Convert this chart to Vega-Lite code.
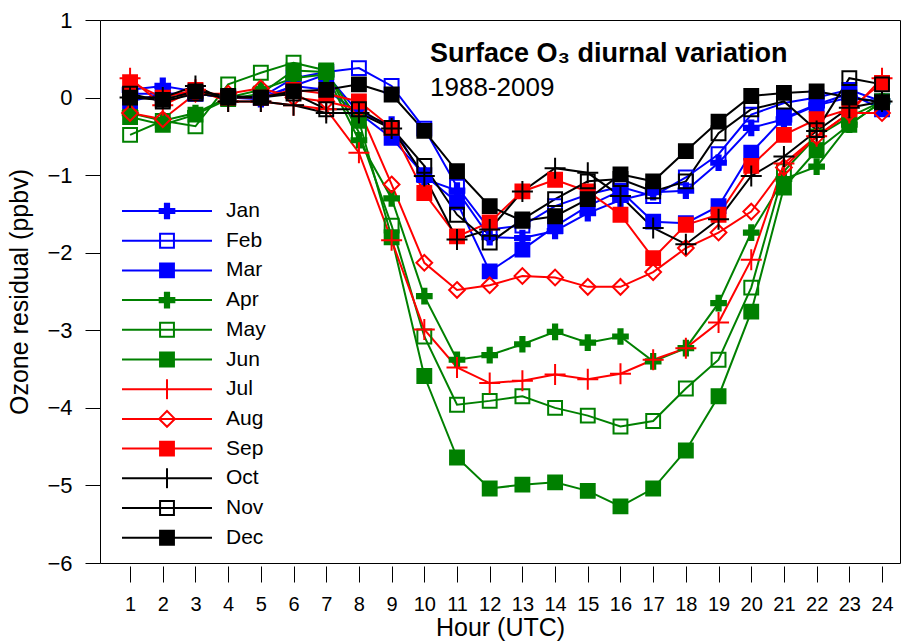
{
  "$schema": "https://vega.github.io/schema/vega-lite/v6.json",
  "width": 800,
  "height": 543,
  "autosize": "none",
  "padding": {"left": 100, "top": 20, "right": 2, "bottom": 78},
  "background": "white",
  "config": {
    "font": "Liberation Sans",
    "view": {"stroke": "#000", "strokeWidth": 1},
    "axis": {"labelColor": "#000", "titleColor": "#000", "tickColor": "#000", "domainColor": "#000", "grid": false, "labelFont": "Liberation Sans", "titleFont": "Liberation Sans", "titleFontWeight": "normal", "labelOverlap": false}
  },
  "title": {
    "text": "Surface O₃ diurnal variation",
    "subtitle": "1988-2009",
    "anchor": "start",
    "frame": "group",
    "dx": 330,
    "offset": -93,
    "font": "Liberation Sans",
    "fontSize": 27,
    "fontWeight": "bold",
    "color": "#000",
    "subtitleFont": "Liberation Sans",
    "subtitleFontSize": 26,
    "subtitleColor": "#000",
    "subtitlePadding": 7
  },
  "data": {
    "values": [
      {"hour": 1, "Jan": 0.10, "Feb": 0.05, "Mar": -0.05, "Apr": -0.20, "May": -0.48, "Jun": -0.25, "Jul": 0.25, "Aug": -0.20, "Sep": 0.20, "Oct": 0.00, "Nov": 0.05, "Dec": 0.00},
      {"hour": 2, "Jan": 0.15, "Feb": 0.05, "Mar": 0.05, "Apr": -0.30, "May": -0.30, "Jun": -0.35, "Jul": -0.10, "Aug": -0.28, "Sep": 0.00, "Oct": 0.00, "Nov": -0.05, "Dec": -0.03},
      {"hour": 3, "Jan": 0.08, "Feb": 0.05, "Mar": 0.05, "Apr": -0.20, "May": -0.37, "Jun": -0.22, "Jul": 0.10, "Aug": 0.05, "Sep": 0.10, "Oct": 0.15, "Nov": 0.05, "Dec": 0.08},
      {"hour": 4, "Jan": 0.00, "Feb": 0.00, "Mar": 0.00, "Apr": 0.00, "May": 0.17, "Jun": -0.02, "Jul": -0.05, "Aug": 0.05, "Sep": 0.00, "Oct": -0.05, "Nov": 0.00, "Dec": 0.02},
      {"hour": 5, "Jan": -0.02, "Feb": 0.00, "Mar": 0.00, "Apr": 0.10, "May": 0.32, "Jun": 0.05, "Jul": -0.05, "Aug": 0.12, "Sep": 0.00, "Oct": -0.05, "Nov": 0.00, "Dec": 0.00},
      {"hour": 6, "Jan": 0.15, "Feb": 0.25, "Mar": 0.15, "Apr": 0.25, "May": 0.45, "Jun": 0.35, "Jul": -0.10, "Aug": 0.00, "Sep": 0.10, "Oct": -0.10, "Nov": 0.05, "Dec": 0.08},
      {"hour": 7, "Jan": 0.10, "Feb": 0.33, "Mar": 0.30, "Apr": 0.30, "May": 0.35, "Jun": 0.33, "Jul": -0.15, "Aug": -0.05, "Sep": 0.05, "Oct": -0.20, "Nov": -0.15, "Dec": 0.10},
      {"hour": 8, "Jan": -0.20, "Feb": 0.38, "Mar": -0.20, "Apr": -0.55, "May": -0.45, "Jun": -0.30, "Jul": -0.71, "Aug": -0.15, "Sep": -0.05, "Oct": -0.20, "Nov": -0.15, "Dec": 0.17},
      {"hour": 9, "Jan": -0.35, "Feb": 0.15, "Mar": -0.52, "Apr": -1.30, "May": -1.65, "Jun": -1.80, "Jul": -1.84, "Aug": -1.12, "Sep": -0.39, "Oct": -0.40, "Nov": -0.39, "Dec": 0.04},
      {"hour": 10, "Jan": -1.05, "Feb": -0.40, "Mar": -1.00, "Apr": -2.56, "May": -3.08, "Jun": -3.59, "Jul": -2.99, "Aug": -2.13, "Sep": -1.23, "Oct": -1.01, "Nov": -0.88, "Dec": -0.43},
      {"hour": 11, "Jan": -1.20, "Feb": -1.15, "Mar": -1.35, "Apr": -3.38, "May": -3.96, "Jun": -4.64, "Jul": -3.48, "Aug": -2.48, "Sep": -1.79, "Oct": -1.83, "Nov": -1.51, "Dec": -0.95},
      {"hour": 12, "Jan": -1.80, "Feb": -1.70, "Mar": -2.24, "Apr": -3.32, "May": -3.91, "Jun": -5.04, "Jul": -3.68, "Aug": -2.42, "Sep": -1.61, "Oct": -1.70, "Nov": -1.87, "Dec": -1.40},
      {"hour": 13, "Jan": -1.81, "Feb": -1.65, "Mar": -1.96, "Apr": -3.18, "May": -3.85, "Jun": -4.99, "Jul": -3.65, "Aug": -2.30, "Sep": -1.21, "Oct": -1.21, "Nov": -1.57, "Dec": -1.59},
      {"hour": 14, "Jan": -1.72, "Feb": -1.40, "Mar": -1.66, "Apr": -3.02, "May": -4.00, "Jun": -4.96, "Jul": -3.57, "Aug": -2.32, "Sep": -1.06, "Oct": -0.91, "Nov": -1.31, "Dec": -1.53},
      {"hour": 15, "Jan": -1.49, "Feb": -1.25, "Mar": -1.40, "Apr": -3.16, "May": -4.10, "Jun": -5.07, "Jul": -3.63, "Aug": -2.44, "Sep": -1.21, "Oct": -0.97, "Nov": -1.08, "Dec": -1.31},
      {"hour": 16, "Jan": -1.32, "Feb": -1.15, "Mar": -1.20, "Apr": -3.08, "May": -4.24, "Jun": -5.27, "Jul": -3.56, "Aug": -2.44, "Sep": -1.51, "Oct": -1.27, "Nov": -1.05, "Dec": -0.99},
      {"hour": 17, "Jan": -1.22, "Feb": -1.27, "Mar": -1.60, "Apr": -3.40, "May": -4.17, "Jun": -5.04, "Jul": -3.38, "Aug": -2.25, "Sep": -2.07, "Oct": -1.68, "Nov": -1.21, "Dec": -1.08},
      {"hour": 18, "Jan": -1.20, "Feb": -1.03, "Mar": -1.62, "Apr": -3.23, "May": -3.75, "Jun": -4.55, "Jul": -3.23, "Aug": -1.94, "Sep": -1.64, "Oct": -1.89, "Nov": -1.08, "Dec": -0.69},
      {"hour": 19, "Jan": -0.84, "Feb": -0.73, "Mar": -1.40, "Apr": -2.65, "May": -3.38, "Jun": -3.85, "Jul": -2.90, "Aug": -1.74, "Sep": -1.51, "Oct": -1.57, "Nov": -0.46, "Dec": -0.31},
      {"hour": 20, "Jan": -0.39, "Feb": -0.22, "Mar": -0.71, "Apr": -1.74, "May": -2.45, "Jun": -2.76, "Jul": -2.09, "Aug": -1.47, "Sep": -0.88, "Oct": -1.01, "Nov": -0.15, "Dec": 0.02},
      {"hour": 21, "Jan": -0.28, "Feb": -0.07, "Mar": -0.26, "Apr": -1.05, "May": -0.95, "Jun": -1.16, "Jul": -0.85, "Aug": -0.90, "Sep": -0.48, "Oct": -0.76, "Nov": -0.05, "Dec": 0.06},
      {"hour": 22, "Jan": -0.10, "Feb": 0.00, "Mar": -0.09, "Apr": -0.89, "May": -0.50, "Jun": -0.68, "Jul": -0.50, "Aug": -0.50, "Sep": -0.28, "Oct": -0.43, "Nov": -0.42, "Dec": 0.08},
      {"hour": 23, "Jan": 0.00, "Feb": 0.10, "Mar": 0.05, "Apr": -0.35, "May": -0.25, "Jun": -0.35, "Jul": -0.20, "Aug": -0.20, "Sep": -0.15, "Oct": -0.13, "Nov": 0.25, "Dec": 0.00},
      {"hour": 24, "Jan": -0.05, "Feb": -0.05, "Mar": -0.15, "Apr": -0.05, "May": -0.05, "Jun": -0.05, "Jul": 0.25, "Aug": -0.20, "Sep": 0.19, "Oct": -0.05, "Nov": 0.17, "Dec": -0.06}
    ]
  },
  "transform": [
    {"fold": ["Jan", "Feb", "Mar", "Apr", "May", "Jun", "Jul", "Aug", "Sep", "Oct", "Nov", "Dec"], "as": ["month", "ozone"]}
  ],
  "encoding": {
    "x": {
      "field": "hour", "type": "quantitative",
      "scale": {"domain": [0.08, 24.55], "nice": false, "zero": false},
      "axis": {"values": [1,2,3,4,5,6,7,8,9,10,11,12,13,14,15,16,17,18,19,20,21,22,23,24], "title": "Hour (UTC)", "offset": 3, "domain": false, "tickSize": 16, "labelFontSize": 20, "labelPadding": 12, "titleFontSize": 25, "titlePadding": 1, "labelFlush": false}
    },
    "y": {
      "field": "ozone", "type": "quantitative",
      "scale": {"domain": [-6, 1], "nice": false, "zero": false},
      "axis": {"values": [-6,-5,-4,-3,-2,-1,0,1], "title": "Ozone residual (ppbv)", "domain": false, "tickSize": 15, "labelFontSize": 22, "labelPadding": 13, "titleFontSize": 25, "titlePadding": 14}
    }
  },
  "layer": [
    {
      "mark": {"type": "line", "strokeWidth": 2},
      "encoding": {
        "color": {
          "field": "month", "type": "nominal", "legend": null,
          "scale": {"domain": ["Jan","Feb","Mar","Apr","May","Jun","Jul","Aug","Sep","Oct","Nov","Dec"], "range": ["#0000ff","#0000ff","#0000ff","#008000","#008000","#008000","#ff0000","#ff0000","#ff0000","#000000","#000000","#000000"]}
        }
      }
    },
    {
      "mark": {"type": "point", "size": 441, "strokeWidth": 2, "opacity": 1},
      "encoding": {
        "shape": {
          "field": "month", "type": "nominal", "legend": null,
          "scale": {"domain": ["Jan","Feb","Mar","Apr","May","Jun","Jul","Aug","Sep","Oct","Nov","Dec"], "range": [
            "M-0.7,-0.2H-0.2V-0.7H0.2V-0.2H0.7V0.2H0.2V0.7H-0.2V0.2H-0.7Z",
            "M-0.66,-0.66H0.66V0.66H-0.66Z",
            "M-0.66,-0.66H0.66V0.66H-0.66Z",
            "M-0.7,-0.2H-0.2V-0.7H0.2V-0.2H0.7V0.2H0.2V0.7H-0.2V0.2H-0.7Z",
            "M-0.66,-0.66H0.66V0.66H-0.66Z",
            "M-0.66,-0.66H0.66V0.66H-0.66Z",
            "M-1,0H1M0,-1V1",
            "M0,-0.75L0.75,0L0,0.75L-0.75,0Z",
            "M-0.66,-0.66H0.66V0.66H-0.66Z",
            "M-1,0H1M0,-1V1",
            "M-0.66,-0.66H0.66V0.66H-0.66Z",
            "M-0.66,-0.66H0.66V0.66H-0.66Z"
          ]}
        },
        "stroke": {
          "field": "month", "type": "nominal", "legend": null,
          "scale": {"domain": ["Jan","Feb","Mar","Apr","May","Jun","Jul","Aug","Sep","Oct","Nov","Dec"], "range": ["#0000ff","#0000ff","#0000ff","#008000","#008000","#008000","#ff0000","#ff0000","#ff0000","#000000","#000000","#000000"]}
        },
        "fill": {
          "field": "month", "type": "nominal", "legend": null,
          "scale": {"domain": ["Jan","Feb","Mar","Apr","May","Jun","Jul","Aug","Sep","Oct","Nov","Dec"], "range": ["#0000ff","transparent","#0000ff","#008000","transparent","#008000","transparent","transparent","#ff0000","transparent","transparent","#000000"]}
        }
      }
    },
    {
      "transform": [{"filter": "false"}],
      "mark": {"type": "point", "size": 441, "strokeWidth": 2, "opacity": 1},
      "encoding": {
        "shape": {
          "field": "month", "type": "nominal",
          "scale": {"domain": ["Jan","Feb","Mar","Apr","May","Jun","Jul","Aug","Sep","Oct","Nov","Dec"], "range": [
            "M-1,0H1M-0.163,-0.047H-0.047V-0.163H0.047V-0.047H0.163V0.047H0.047V0.163H-0.047V0.047H-0.163Z",
            "M-1,0H1M-0.154,-0.154H0.154V0.154H-0.154Z",
            "M-1,0H1M-0.154,-0.154H0.154V0.154H-0.154Z",
            "M-1,0H1M-0.163,-0.047H-0.047V-0.163H0.047V-0.047H0.163V0.047H0.047V0.163H-0.047V0.047H-0.163Z",
            "M-1,0H1M-0.154,-0.154H0.154V0.154H-0.154Z",
            "M-1,0H1M-0.154,-0.154H0.154V0.154H-0.154Z",
            "M-1,0H1M0,-0.233V0.233",
            "M-1,0H1M0,-0.175L0.175,0L0,0.175L-0.175,0Z",
            "M-1,0H1M-0.154,-0.154H0.154V0.154H-0.154Z",
            "M-1,0H1M0,-0.233V0.233",
            "M-1,0H1M-0.154,-0.154H0.154V0.154H-0.154Z",
            "M-1,0H1M-0.154,-0.154H0.154V0.154H-0.154Z"
          ]},
          "legend": {"orient": "none", "legendX": 21, "legendY": 181, "title": null, "padding": 0, "symbolSize": 8100, "symbolStrokeWidth": 2, "symbolOpacity": 1, "labelFontSize": 21, "labelFont": "Liberation Sans", "labelColor": "#000", "labelOffset": 13, "rowPadding": 8.7, "gridAlign": "all", "clipHeight": 20}
        },
        "stroke": {
          "field": "month", "type": "nominal",
          "scale": {"domain": ["Jan","Feb","Mar","Apr","May","Jun","Jul","Aug","Sep","Oct","Nov","Dec"], "range": ["#0000ff","#0000ff","#0000ff","#008000","#008000","#008000","#ff0000","#ff0000","#ff0000","#000000","#000000","#000000"]},
          "legend": {"orient": "none", "legendX": 21, "legendY": 181, "title": null, "padding": 0, "symbolSize": 8100, "symbolStrokeWidth": 2, "symbolOpacity": 1, "labelFontSize": 21, "labelFont": "Liberation Sans", "labelColor": "#000", "labelOffset": 13, "rowPadding": 8.7, "gridAlign": "all", "clipHeight": 20}
        },
        "fill": {
          "field": "month", "type": "nominal",
          "scale": {"domain": ["Jan","Feb","Mar","Apr","May","Jun","Jul","Aug","Sep","Oct","Nov","Dec"], "range": ["#0000ff","transparent","#0000ff","#008000","transparent","#008000","transparent","transparent","#ff0000","transparent","transparent","#000000"]},
          "legend": {"orient": "none", "legendX": 21, "legendY": 181, "title": null, "padding": 0, "symbolSize": 8100, "symbolStrokeWidth": 2, "symbolOpacity": 1, "labelFontSize": 21, "labelFont": "Liberation Sans", "labelColor": "#000", "labelOffset": 13, "rowPadding": 8.7, "gridAlign": "all", "clipHeight": 20}
        }
      }
    }
  ],
  "resolve": {
    "scale": {"shape": "independent", "stroke": "independent", "fill": "independent"},
    "legend": {"shape": "independent", "stroke": "independent", "fill": "independent"}
  }
}
